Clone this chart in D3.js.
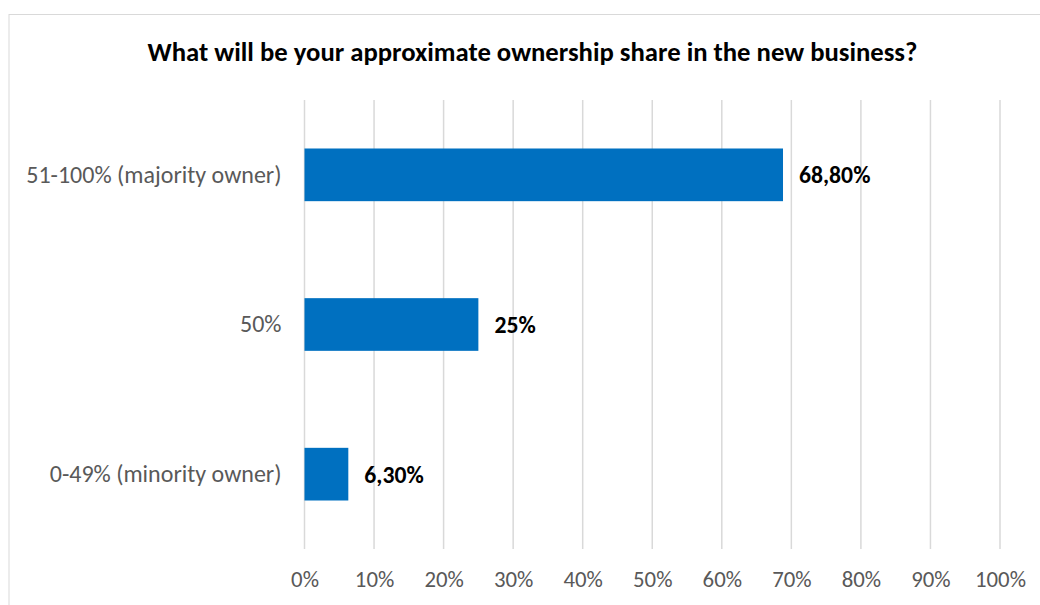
<!DOCTYPE html>
<html>
<head>
<meta charset="utf-8">
<script src="https://cdn.jsdelivr.net/npm/d3@7"></script>
<style>
  html, body { margin: 0; padding: 0; background: #fff; }
  svg { display: block; }
</style>
</head>
<body>
<svg id="chart" width="1040" height="605"></svg>
<script>
// Survey answers: ownership share in the new business
const categories = ["51-100% (majority owner)", "50%", "0-49% (minority owner)"];
const shares = [68.8, 25, 6.3];
const shareLabels = ["68,80%", "25%", "6,30%"];
const tickValues = [0, 10, 20, 30, 40, 50, 60, 70, 80, 90, 100];
const titleText = "What will be your approximate ownership share in the new business?";

const FONT = "Carlito, Lato, 'Open Sans', sans-serif";
const svg = d3.select("#chart");

// chart frame
svg.append("rect")
  .attr("x", 9).attr("y", 14.5)
  .attr("width", 1040).attr("height", 620)
  .attr("fill", "#fff")
  .attr("stroke", "#d9d9d9").attr("stroke-width", 1);

const plot = { left: 304.5, right: 1000, top: 100, bottom: 549 };

const x = d3.scaleLinear().domain([0, 100]).range([plot.left, plot.right]);
const y = d3.scaleBand().domain(categories)
  .range([plot.top, plot.bottom])
  .paddingInner(0.648).paddingOuter(0.324);

// title
svg.append("text")
  .attr("x", 532.5).attr("y", 61)
  .attr("text-anchor", "middle")
  .attr("font-family", FONT).attr("font-weight", "bold")
  .attr("font-size", 26.7).attr("fill", "#000")
  .text(titleText);

// vertical gridlines
svg.append("g").selectAll("line").data(tickValues).join("line")
  .attr("x1", d => x(d)).attr("x2", d => x(d))
  .attr("y1", plot.top).attr("y2", plot.bottom)
  .attr("stroke", "#d9d9d9").attr("stroke-width", 1.5);

// bars
svg.append("g").selectAll("rect").data(shares).join("rect")
  .attr("x", x(0))
  .attr("y", (d, i) => y(categories[i]))
  .attr("width", d => x(d) - x(0))
  .attr("height", y.bandwidth())
  .attr("fill", "#0070c0");

// value labels
svg.append("g").selectAll("text").data(shares).join("text")
  .attr("x", d => x(d) + 16)
  .attr("y", (d, i) => y(categories[i]) + y.bandwidth() / 2)
  .attr("dy", "0.36em")
  .attr("font-family", FONT).attr("font-weight", "bold")
  .attr("font-size", 23.7).attr("fill", "#000")
  .text((d, i) => shareLabels[i]);

// category axis (labels only)
const yAxis = d3.axisLeft(y).tickSize(0).tickPadding(23);
const gy = svg.append("g").attr("transform", `translate(${plot.left},0)`).call(yAxis);
gy.select(".domain").remove();
gy.selectAll("text")
  .attr("font-family", FONT).attr("font-size", 24).attr("fill", "#595959");

// value axis (labels only)
const xAxis = d3.axisBottom(x).tickValues(tickValues).tickFormat(d => d + "%").tickSize(0).tickPadding(22);
const gx = svg.append("g").attr("transform", `translate(0,${plot.bottom})`).call(xAxis);
gx.select(".domain").remove();
gx.selectAll("text")
  .attr("font-family", FONT).attr("font-size", 22.8).attr("fill", "#595959");
</script>
</body>
</html>
